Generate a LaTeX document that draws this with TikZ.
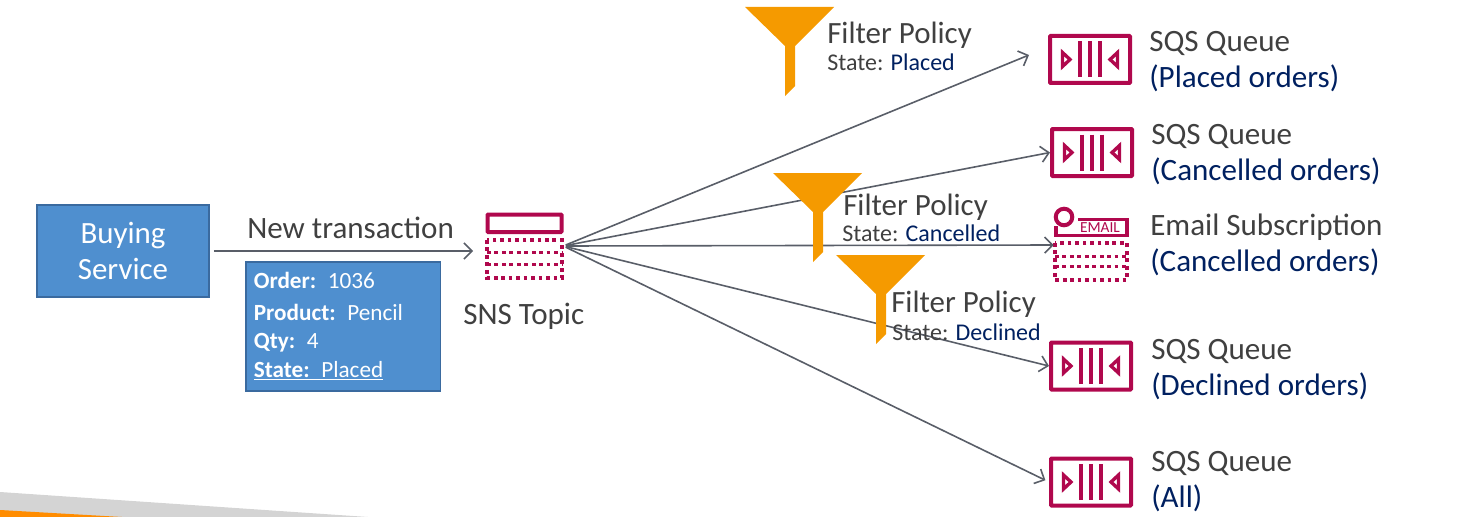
\documentclass[tikz,border=0pt]{standalone}
\usepackage{fontspec}
\setmainfont{Carlito}
\usetikzlibrary{arrows.meta, positioning}

\definecolor{awsred}{HTML}{B0084D}
\definecolor{boxblue}{HTML}{4F8FCF}
\definecolor{boxedge}{HTML}{3A6A9F}
\definecolor{funnelorange}{HTML}{F59A00}
\definecolor{flowgrey}{HTML}{595E68}
\definecolor{labelgrey}{HTML}{404040}
\definecolor{labelnavy}{HTML}{002060}

\tikzset{
	flow/.style={draw=flowgrey, line width=1.2pt, -{Straight Barb[length=6pt,width=12pt,line width=1.2pt]}},
	bluebox/.style={draw=boxedge, line width=1.3pt, fill=boxblue, text=white},
	queuebox/.style={draw=awsred, line width=3pt, rounded corners=0.6pt, minimum width=60pt, minimum height=35.25pt},
	namelabel/.style={anchor=west, inner sep=0pt, align=left, text=labelgrey, font=\fontsize{23.3}{27}\selectfont},
	filterlabel/.style={anchor=west, inner sep=0pt, align=left, text=labelgrey, font=\fontsize{23.2}{23}\selectfont},
	statelabel/.style={anchor=west, inner sep=0pt, align=left, text=labelgrey, font=\fontsize{18}{18}\selectfont},
	dottedpart/.style={draw=awsred, line width=2.4pt, dash pattern=on 2.8pt off 2.8pt},
	pics/queueicon/.style={code={
		\draw[awsred, line width=2.5pt, line join=miter] (-27.5,-7) -- (-27.5,7) -- (-20,0) -- cycle;
		\draw[awsred, line width=2.5pt, line join=miter] (27.5,-7) -- (27.5,7) -- (20,0) -- cycle;
		\draw[awsred, line width=3pt] (-10,-18) -- (-10,18) (0,-18) -- (0,18) (10,-18) -- (10,18);
	}},
	pics/funnel/.style={code={
		\fill[funnelorange] (0,0) -- (89,0) -- (50,39) -- (50,79) -- (40,89) -- (40,39) -- cycle;
	}},
}

\begin{document}
\begin{tikzpicture}[x=0.75pt, y=-0.75pt]
	\useasboundingbox (0,0) rectangle (1459,517);

	% corner of the slide
	\fill[black!17] (0,492) -- (368,517) -- (0,517) -- cycle;
	\fill[orange!90!yellow] (0,510) -- (122,517) -- (0,517) -- cycle;

	\node[bluebox, minimum width=129pt, minimum height=69pt, align=center, font=\fontsize{23.2}{27}\selectfont] (buying) at (123,251) {Buying\\Service};
	\node[bluebox, text width=134pt, minimum height=96.75pt, align=left, anchor=north west, inner xsep=6pt, inner ysep=0pt, font=\fontsize{17.4}{21.5}\selectfont] (order) at (245,261) {%
		\textbf{Order:} 1036\\[2pt]
		\textbf{Product:} Pencil\\
		\textbf{Qty:} 4\\
		\underline{\textbf{State:} Placed}};

	\node[minimum width=57.75pt, minimum height=49.5pt, inner sep=0pt] (topic) at (524.5,246) {};
	\node[queuebox] (queue placed)    at (1090,59.5) {};
	\node[queuebox] (queue cancelled) at (1092,152.5) {};
	\node[minimum width=55.5pt, minimum height=55.5pt, inner sep=0pt] (email) at (1091,245) {};
	\node[queuebox] (queue declined)  at (1091,366) {};
	\node[queuebox] (queue all)       at (1091,482) {};
	\coordinate (placed in) at (1029,55);

	% sns topic icon
	\draw[awsred, line width=3pt, rounded corners=0.6pt] (487.5,214.5) rectangle (561.5,232);
	\draw[dottedpart] (487,240) rectangle (562,278);
	\draw[dottedpart] (487,252.5) -- (562,252.5);
	\draw[dottedpart] (487,264.5) -- (562,264.5);

	% email icon
	\draw[awsred, line width=3pt] (1064,217) circle (6.2pt);
	\draw[awsred, line width=2.6pt] (1078,219.5) -- (1127,219.5) -- (1127,235.5) -- (1056,235.5) -- (1056,226);
	\node[text=awsred, inner sep=0pt, font=\fontsize{11.5}{12}\selectfont] (email word) at (1100,228) {EMAIL};
	\draw[dottedpart] (1055,243) rectangle (1127,280);
	\draw[dottedpart] (1055,256.5) -- (1127,256.5);
	\draw[dottedpart] (1055,266.5) -- (1127,266.5);

	\pic at (queue placed) {queueicon};
	\pic at (queue cancelled) {queueicon};
	\pic at (queue declined) {queueicon};
	\pic at (queue all) {queueicon};

	\draw[flow, shorten <=3pt, shorten >=9.5pt] (buying.east) -- (buying.east -| topic.west);
	\draw[flow, shorten <=2pt] (topic.east) -- (placed in);
	\draw[flow, shorten <=2pt] (topic.east) -- (queue cancelled.west);
	\draw[flow, shorten <=2pt] (topic.east) -- (email.west);
	\draw[flow, shorten <=2pt] (topic.east) -- (queue declined.west);
	\draw[flow, shorten <=2pt, shorten >=3pt] (topic.east) -- (queue all.west);

	\pic at (745,7) {funnel};
	\pic at (773,173) {funnel};
	\pic at (836,255) {funnel};

	\node[namelabel] (new transaction) at (247,228) {New transaction};
	\node[namelabel] (topic name) at (463,316) {SNS Topic};

	\node[filterlabel] (filter placed) at (827,35) {Filter Policy};
	\node[statelabel] (state placed) at (827,62) {State: \textcolor{labelnavy}{Placed}};
	\node[filterlabel] (filter cancelled) at (843,207) {Filter Policy};
	\node[statelabel] (state cancelled) at (842,233) {State: \textcolor{labelnavy}{Cancelled}};
	\node[filterlabel] (filter declined) at (891,304) {Filter Policy};
	\node[statelabel] (state declined) at (892,332) {State: \textcolor{labelnavy}{Declined}};

	\node[namelabel] (name placed)    at (1149,62)  {SQS Queue\\\textcolor{labelnavy}{(Placed orders)}};
	\node[namelabel] (name cancelled) at (1151,155) {SQS Queue\\\textcolor{labelnavy}{(Cancelled orders)}};
	\node[namelabel] (name email)     at (1150,245) {Email Subscription\\\textcolor{labelnavy}{(Cancelled orders)}};
	\node[namelabel] (name declined)  at (1151,370) {SQS Queue\\\textcolor{labelnavy}{(Declined orders)}};
	\node[namelabel] (name all)       at (1151,482) {SQS Queue\\\textcolor{labelnavy}{(All)}};
\end{tikzpicture}
\end{document}
